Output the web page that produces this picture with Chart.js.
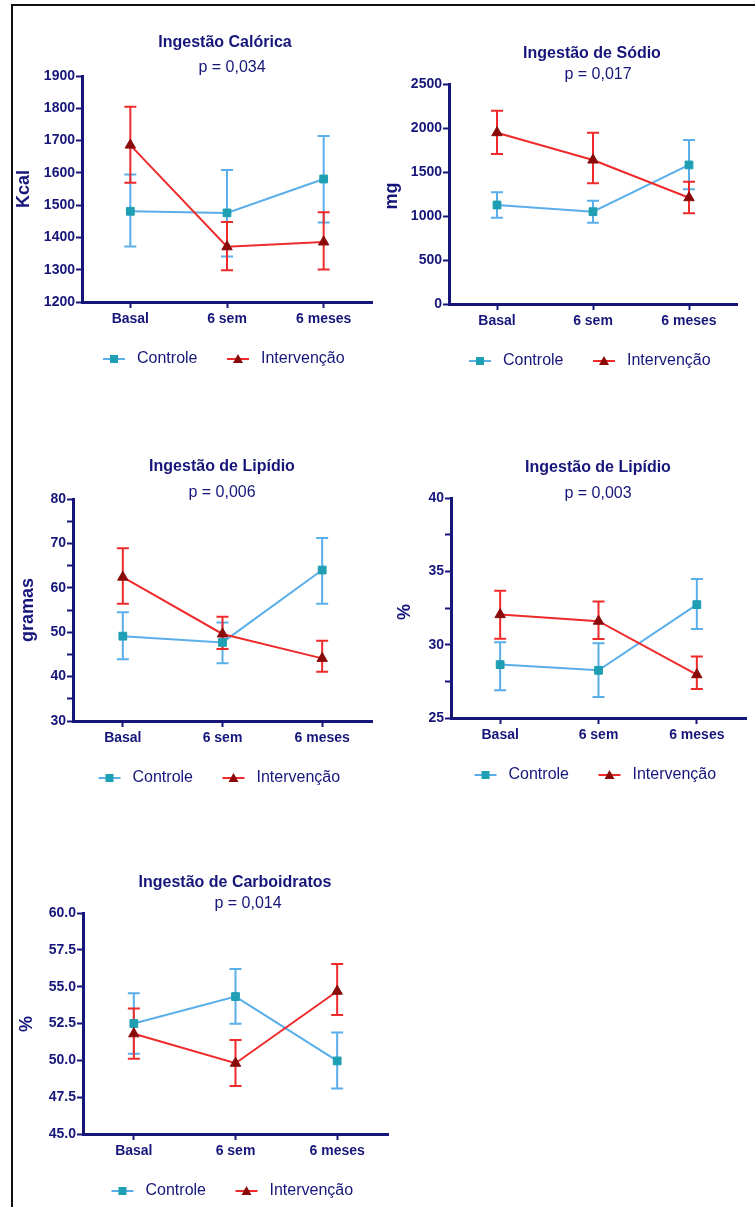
<!DOCTYPE html>
<html>
<head>
<meta charset="utf-8">
<script src="https://cdn.jsdelivr.net/npm/chart.js@4.4.1/dist/chart.umd.min.js"></script>
<style>
  body { margin: 0; background: #fff; }
  #page { position: relative; width: 755px; height: 1207px; overflow: hidden; }
  #frame { position: absolute; left: 11px; top: 4px; width: 800px; height: 1250px;
           border-left: 2px solid #111; border-top: 2px solid #111; }
  canvas { position: absolute; }
</style>
</head>
<body>
<div id="page">
  <div id="frame"></div>
  <canvas id="calorica"></canvas>
  <canvas id="sodio"></canvas>
  <canvas id="lipidioG"></canvas>
  <canvas id="lipidioPct"></canvas>
  <canvas id="carbo"></canvas>
</div>
<script>
const categories = ['Basal', '6 sem', '6 meses'];

// Ingestão Calórica (Kcal)
const calControle = [1481, 1476, 1581];
const calControleLow = [1372, 1341, 1446];
const calControleHigh = [1595, 1609, 1714];
const calInterv = [1686, 1371, 1386];
const calIntervLow = [1569, 1298, 1301];
const calIntervHigh = [1805, 1448, 1478];
const calTicks = [1200, 1300, 1400, 1500, 1600, 1700, 1800, 1900];

// Ingestão de Sódio (mg)
const sodControle = [1125, 1049, 1580];
const sodControleLow = [981, 924, 1303];
const sodControleHigh = [1269, 1174, 1864];
const sodInterv = [1947, 1636, 1208];
const sodIntervLow = [1705, 1371, 1030];
const sodIntervHigh = [2197, 1947, 1390];
const sodTicks = [0, 500, 1000, 1500, 2000, 2500];

// Ingestão de Lipídio (gramas)
const lipGControle = [49.1, 47.7, 64.0];
const lipGControleLow = [43.9, 43.0, 56.4];
const lipGControleHigh = [54.5, 52.2, 71.2];
const lipGInterv = [62.4, 49.6, 44.1];
const lipGIntervLow = [56.4, 46.2, 41.1];
const lipGIntervHigh = [68.9, 53.5, 48.1];
const lipGTicks = [30, 40, 50, 60, 70, 80];
const lipGMinor = [35, 45, 55, 65, 75];

// Ingestão de Lipídio (%)
const lipPControle = [28.64, 28.25, 32.73];
const lipPControleLow = [26.89, 26.43, 31.07];
const lipPControleHigh = [30.16, 30.1, 34.48];
const lipPInterv = [32.05, 31.6, 27.95];
const lipPIntervLow = [30.41, 30.39, 26.98];
const lipPIntervHigh = [33.68, 32.95, 29.2];
const lipPTicks = [25, 30, 35, 40];
const lipPMinor = [27.5, 32.5, 37.5];

// Ingestão de Carboidratos (%)
const carbControle = [52.5, 54.33, 49.96];
const carbControleLow = [50.44, 52.48, 48.08];
const carbControleHigh = [54.56, 56.2, 51.89];
const carbInterv = [51.8, 49.8, 54.69];
const carbIntervLow = [50.1, 48.26, 53.07];
const carbIntervHigh = [53.52, 51.38, 56.53];
const carbTicks = [45, 47.5, 50, 52.5, 55, 57.5, 60];

const NAVY = '#16167a';
const BLUE_LINE = '#5aaeea';
const BLUE_MARK = '#1f9fb3';
const RED_LINE = '#ee2a2a';
const RED_MARK = '#8a0a0a';
const FONT = '"Liberation Sans", Arial, sans-serif';

const PAD_L = 72, PAD_T = 72, PAD_R = 6, PAD_B = 80;

const errorBars = {
  id: 'errorBars',
  beforeDatasetsDraw(chart) {
    const ctx = chart.ctx;
    const y = chart.scales.y;
    chart.data.datasets.forEach((ds, i) => {
      const meta = chart.getDatasetMeta(i);
      ctx.save();
      ctx.strokeStyle = ds.borderColor;
      ctx.lineWidth = 2;
      meta.data.forEach((pt, j) => {
        const top = y.getPixelForValue(ds.errHigh[j]);
        const bot = y.getPixelForValue(ds.errLow[j]);
        ctx.beginPath();
        ctx.moveTo(pt.x, top); ctx.lineTo(pt.x, bot);
        ctx.moveTo(pt.x - 6, top); ctx.lineTo(pt.x + 6, top);
        ctx.moveTo(pt.x - 6, bot); ctx.lineTo(pt.x + 6, bot);
        ctx.stroke();
      });
      ctx.restore();
    });
  }
};

// titles, axis title and legend
const decorations = {
  id: 'decorations',
  afterDraw(chart, args, o) {
    const ctx = chart.ctx;
    const a = chart.chartArea;
    ctx.save();
    ctx.fillStyle = NAVY;
    ctx.textAlign = 'center';
    ctx.textBaseline = 'middle';
    ctx.font = 'bold 16px ' + FONT;
    ctx.fillText(o.title, o.titlePos[0], o.titlePos[1]);
    ctx.font = '16px ' + FONT;
    ctx.fillText(o.pval, o.pPos[0], o.pPos[1]);

    ctx.save();
    ctx.translate(o.yTitlePos[0], o.yTitlePos[1]);
    ctx.rotate(-Math.PI / 2);
    ctx.font = 'bold 18px ' + FONT;
    ctx.fillText(o.yTitle, 0, 0);
    ctx.restore();

    const cx = (a.left + a.right) / 2;
    const ly = a.bottom + 57;
    ctx.lineWidth = 2;
    ctx.strokeStyle = BLUE_LINE;
    ctx.beginPath(); ctx.moveTo(cx - 124, ly); ctx.lineTo(cx - 102, ly); ctx.stroke();
    ctx.fillStyle = BLUE_MARK;
    ctx.fillRect(cx - 117, ly - 4, 8, 8);
    ctx.strokeStyle = RED_LINE;
    ctx.beginPath(); ctx.moveTo(cx, ly); ctx.lineTo(cx + 22, ly); ctx.stroke();
    ctx.fillStyle = RED_MARK;
    ctx.beginPath();
    ctx.moveTo(cx + 11, ly - 5); ctx.lineTo(cx + 16, ly + 4); ctx.lineTo(cx + 6, ly + 4);
    ctx.closePath(); ctx.fill();

    ctx.fillStyle = NAVY;
    ctx.textAlign = 'left';
    ctx.font = '16px ' + FONT;
    ctx.fillText('Controle', cx - 90, ly);
    ctx.fillText('Intervenção', cx + 34, ly);
    ctx.restore();
  }
};

function makePanel(id, p) {
  const canvas = document.getElementById(id);
  const ox = p.area.l - PAD_L, oy = p.area.t - PAD_T;
  canvas.style.left = ox + 'px';
  canvas.style.top = oy + 'px';
  canvas.width = p.area.r - p.area.l + PAD_L + PAD_R;
  canvas.height = p.area.b - p.area.t + PAD_T + PAD_B;

  const allTicks = p.ticks.concat(p.minor || []).sort((m, n) => m - n);
  const fmt = p.fmt || (v => String(v));
  const axisGrid = {
    display: true, drawOnChartArea: false, drawTicks: true,
    tickLength: 6, tickWidth: 2, tickColor: NAVY, color: NAVY
  };
  const axisBorder = { display: true, color: NAVY, width: 3 };

  new Chart(canvas.getContext('2d'), {
    type: 'line',
    data: {
      labels: categories,
      datasets: [{
        label: 'Controle',
        data: p.ctrl, errLow: p.ctrlLow, errHigh: p.ctrlHigh,
        borderColor: BLUE_LINE, borderWidth: 2, tension: 0,
        pointStyle: 'rect', pointRadius: 5.5, pointBorderWidth: 1,
        pointBackgroundColor: BLUE_MARK, pointBorderColor: BLUE_MARK,
        order: 2
      }, {
        label: 'Intervenção',
        data: p.inter, errLow: p.interLow, errHigh: p.interHigh,
        borderColor: RED_LINE, borderWidth: 2, tension: 0,
        pointStyle: 'triangle', pointRadius: 6, pointBorderWidth: 1,
        pointBackgroundColor: RED_MARK, pointBorderColor: RED_MARK,
        order: 1
      }]
    },
    options: {
      responsive: false,
      animation: false,
      devicePixelRatio: 1,
      layout: { padding: { top: PAD_T, right: PAD_R, left: 0, bottom: 0 } },
      scales: {
        x: {
          type: 'category',
          offset: true,
          grid: Object.assign({ offset: false }, axisGrid),
          border: axisBorder,
          ticks: { color: NAVY, padding: 3, font: { family: FONT, size: 14, weight: 'bold' } },
          afterFit: s => { s.height = PAD_B; }
        },
        y: {
          type: 'linear',
          min: p.min, max: p.max,
          grid: axisGrid,
          border: axisBorder,
          afterBuildTicks: s => { s.ticks = allTicks.map(v => ({ value: v })); },
          ticks: {
            autoSkip: false, color: NAVY, padding: 1,
            font: { family: FONT, size: 14, weight: 'bold' },
            callback: v => p.ticks.includes(v) ? fmt(v) : ''
          },
          afterFit: s => { s.width = PAD_L; }
        }
      },
      plugins: {
        legend: { display: false },
        tooltip: { enabled: false },
        decorations: {
          title: p.title, pval: p.pval, yTitle: p.yTitle,
          titlePos: [p.titlePos[0] - ox, p.titlePos[1] - oy],
          pPos: [p.pPos[0] - ox, p.pPos[1] - oy],
          yTitlePos: [p.yTitlePos[0] - ox, p.yTitlePos[1] - oy]
        }
      }
    },
    plugins: [errorBars, decorations]
  });
}

makePanel('calorica', {
  area: { l: 82, r: 373, t: 76, b: 302 },
  ctrl: calControle, ctrlLow: calControleLow, ctrlHigh: calControleHigh,
  inter: calInterv, interLow: calIntervLow, interHigh: calIntervHigh,
  min: 1200, max: 1900, ticks: calTicks,
  title: 'Ingestão Calórica', titlePos: [225, 43],
  pval: 'p = 0,034', pPos: [232, 68],
  yTitle: 'Kcal', yTitlePos: [24, 189]
});

makePanel('sodio', {
  area: { l: 449, r: 738, t: 84, b: 304 },
  ctrl: sodControle, ctrlLow: sodControleLow, ctrlHigh: sodControleHigh,
  inter: sodInterv, interLow: sodIntervLow, interHigh: sodIntervHigh,
  min: 0, max: 2500, ticks: sodTicks,
  title: 'Ingestão de Sódio', titlePos: [592, 54],
  pval: 'p = 0,017', pPos: [598, 75],
  yTitle: 'mg', yTitlePos: [392, 196]
});

makePanel('lipidioG', {
  area: { l: 73, r: 373, t: 499, b: 721 },
  ctrl: lipGControle, ctrlLow: lipGControleLow, ctrlHigh: lipGControleHigh,
  inter: lipGInterv, interLow: lipGIntervLow, interHigh: lipGIntervHigh,
  min: 30, max: 80, ticks: lipGTicks, minor: lipGMinor,
  title: 'Ingestão de Lipídio', titlePos: [222, 467],
  pval: 'p = 0,006', pPos: [222, 493],
  yTitle: 'gramas', yTitlePos: [28, 610]
});

makePanel('lipidioPct', {
  area: { l: 451, r: 747, t: 498, b: 718 },
  ctrl: lipPControle, ctrlLow: lipPControleLow, ctrlHigh: lipPControleHigh,
  inter: lipPInterv, interLow: lipPIntervLow, interHigh: lipPIntervHigh,
  min: 25, max: 40, ticks: lipPTicks, minor: lipPMinor,
  title: 'Ingestão de Lipídio', titlePos: [598, 468],
  pval: 'p = 0,003', pPos: [598, 494],
  yTitle: '%', yTitlePos: [405, 612]
});

makePanel('carbo', {
  area: { l: 83, r: 389, t: 913, b: 1134 },
  ctrl: carbControle, ctrlLow: carbControleLow, ctrlHigh: carbControleHigh,
  inter: carbInterv, interLow: carbIntervLow, interHigh: carbIntervHigh,
  min: 45, max: 60, ticks: carbTicks, fmt: v => v.toFixed(1),
  title: 'Ingestão de Carboidratos', titlePos: [235, 883],
  pval: 'p = 0,014', pPos: [248, 904],
  yTitle: '%', yTitlePos: [27, 1024]
});
</script>
</body>
</html>
